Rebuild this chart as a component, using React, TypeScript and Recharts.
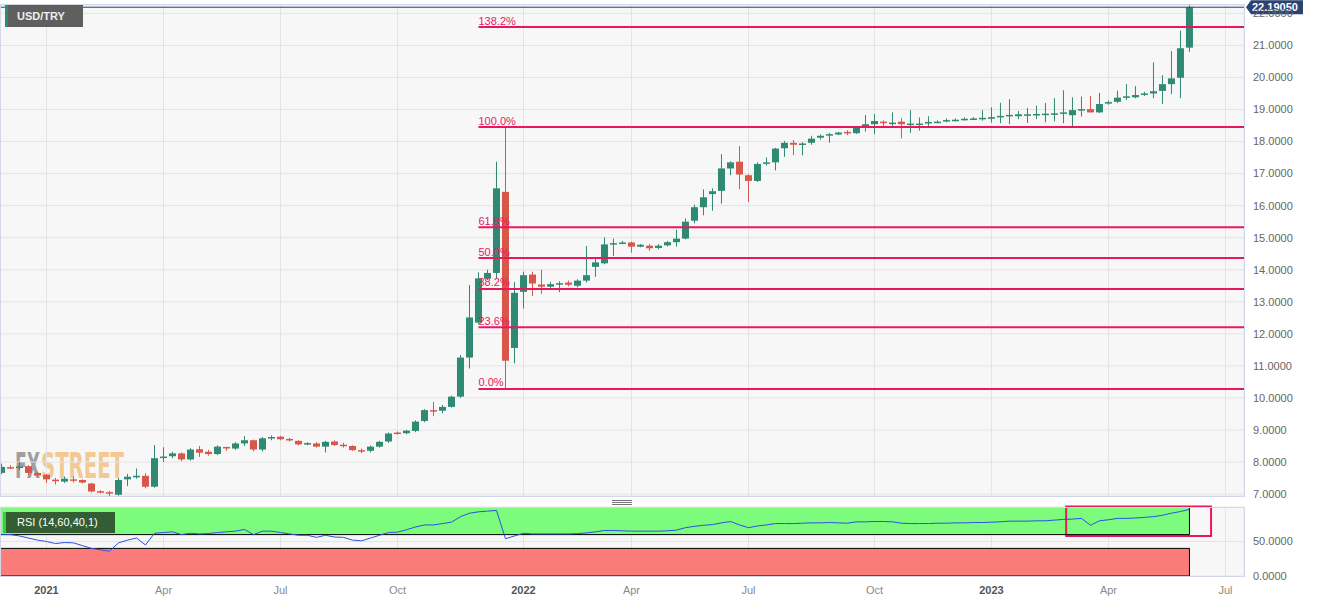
import React from 'react'
import {
  ComposedChart,
  Bar,
  Line,
  XAxis,
  YAxis,
  CartesianGrid,
  ReferenceLine,
  ReferenceArea,
} from 'recharts'

// weekly USD/TRY candles, index 0 = first visible week (late Nov 2020)
const open = [
  7.66, 7.84, 7.83, 7.87, 7.66, 7.6, 7.45, 7.39, 7.46, 7.44,
  7.33, 7.09, 7.06, 6.98, 7.46, 7.55, 7.57, 7.23, 8.13, 8.18,
  8.27, 8.08, 8.4, 8.32, 8.25, 8.47, 8.42, 8.58, 8.68, 8.39,
  8.76, 8.79, 8.72, 8.66, 8.57, 8.58, 8.48, 8.64, 8.54, 8.5,
  8.37, 8.35, 8.48, 8.64, 8.92, 8.9, 8.97, 9.28, 9.62, 9.6,
  9.72, 10.04, 11.26, 12.35, 13.72, 13.9, 16.43, 11.56, 13.31, 13.85,
  13.54, 13.47, 13.56, 13.6, 13.5, 13.66, 14.09, 14.2, 14.8, 14.83,
  14.85, 14.72, 14.75, 14.68, 14.76, 14.86, 14.97, 15.53, 15.95, 16.36,
  16.46, 17.16, 17.37, 16.95, 16.77, 17.32, 17.35, 17.79, 17.96, 17.92,
  17.96, 18.12, 18.2, 18.22, 18.3, 18.26, 18.46, 18.54, 18.62, 18.57,
  18.62, 18.54, 18.55, 18.58, 18.6, 18.64, 18.66, 18.68, 18.7, 18.7,
  18.71, 18.77, 18.8, 18.79, 18.83, 18.84, 18.85, 18.86, 18.88, 18.82,
  18.98, 19.01, 18.91, 19.19, 19.24, 19.38, 19.38, 19.47, 19.5, 19.58,
  19.79, 19.99, 20.93,
]
const high = [
  7.95, 7.9, 8.0, 7.9, 7.7, 7.62, 7.5, 7.55, 7.55, 7.46,
  7.35, 7.12, 7.1, 7.5, 7.63, 7.8, 7.65, 8.53, 8.46, 8.32,
  8.3, 8.43, 8.5, 8.38, 8.52, 8.48, 8.62, 8.81, 8.7, 8.78,
  8.83, 8.82, 8.75, 8.68, 8.62, 8.62, 8.66, 8.68, 8.6, 8.52,
  8.42, 8.52, 8.66, 8.92, 8.95, 9.0, 9.3, 9.65, 9.88, 9.78,
  10.07, 11.34, 13.52, 13.92, 14.0, 17.37, 18.45, 13.62, 13.94, 13.94,
  14.0, 13.62, 13.64, 13.66, 13.7, 14.74, 14.36, 15.01, 14.97, 14.9,
  14.88, 14.8, 14.8, 14.8, 14.9, 15.25, 15.6, 16.03, 16.51, 16.54,
  17.61, 17.38, 17.86, 16.98, 17.35, 17.5, 17.8, 18.02, 18.05, 17.98,
  18.18, 18.22, 18.27, 18.3, 18.35, 18.48, 18.83, 18.86, 18.66, 18.91,
  18.73, 18.98, 18.75, 18.79, 18.66, 18.72, 18.72, 18.75, 18.76, 18.98,
  19.07, 19.21, 19.32, 18.95, 19.05, 19.12, 19.2, 19.35, 19.6, 19.38,
  19.4, 19.42, 19.52, 19.28, 19.59, 19.79, 19.73, 19.55, 20.47, 20.07,
  20.82, 21.46, 22.25,
]
const low = [
  7.62, 7.78, 7.75, 7.6, 7.55, 7.35, 7.3, 7.35, 7.36, 7.33,
  7.05, 7.02, 6.92, 6.95, 7.25, 7.48, 7.18, 7.2, 8.0, 8.12,
  8.02, 8.05, 8.16, 8.2, 8.22, 8.35, 8.38, 8.5, 8.33, 8.33,
  8.68, 8.68, 8.64, 8.52, 8.53, 8.45, 8.3, 8.5, 8.45, 8.35,
  8.28, 8.3, 8.45, 8.6, 8.86, 8.87, 8.93, 9.24, 9.43, 9.52,
  9.7, 10.0, 10.92, 12.3, 13.68, 13.73, 10.28, 11.08, 12.79, 13.18,
  13.25, 13.37, 13.3, 13.48, 13.45, 13.6, 13.78, 14.17, 14.43, 14.8,
  14.53, 14.7, 14.59, 14.64, 14.73, 14.72, 14.95, 15.45, 15.7, 15.84,
  16.06, 16.95, 16.51, 16.12, 16.74, 17.25, 17.1, 17.52, 17.58, 17.57,
  17.9, 18.06, 17.96, 18.2, 18.2, 18.24, 18.31, 18.23, 18.43, 18.46,
  18.1, 18.27, 18.34, 18.48, 18.57, 18.6, 18.63, 18.65, 18.67, 18.65,
  18.59, 18.57, 18.54, 18.7, 18.58, 18.7, 18.6, 18.63, 18.57, 18.42,
  18.78, 18.9, 18.89, 19.15, 19.2, 19.3, 19.35, 19.42, 19.35, 19.17,
  19.48, 19.35, 20.8,
]
const close = [
  7.85, 7.82, 7.86, 7.66, 7.58, 7.46, 7.41, 7.48, 7.42, 7.36,
  7.08, 7.06, 7.03, 7.44, 7.54, 7.57, 7.23, 8.12, 8.17, 8.27,
  8.08, 8.39, 8.29, 8.25, 8.48, 8.43, 8.58, 8.68, 8.39, 8.74,
  8.78, 8.71, 8.69, 8.55, 8.59, 8.48, 8.63, 8.53, 8.52, 8.37,
  8.34, 8.48, 8.63, 8.89, 8.9, 8.98, 9.26, 9.62, 9.58, 9.72,
  10.04, 11.26, 12.51, 13.73, 13.9, 16.54, 11.16, 13.28, 13.83, 13.57,
  13.47, 13.55, 13.58, 13.53, 13.66, 13.83, 14.23, 14.79, 14.83, 14.85,
  14.72, 14.78, 14.67, 14.75, 14.86, 14.97, 15.5, 15.95, 16.26, 16.45,
  17.16, 17.35, 16.97, 16.77, 17.3, 17.35, 17.78, 17.96, 17.9, 17.94,
  18.09, 18.18, 18.23, 18.28, 18.27, 18.46, 18.54, 18.64, 18.59, 18.59,
  18.54, 18.56, 18.56, 18.61, 18.62, 18.67, 18.68, 18.71, 18.72, 18.74,
  18.76, 18.8, 18.83, 18.85, 18.85, 18.86, 18.87, 18.88, 18.91, 18.98,
  19.01, 18.91, 19.17, 19.23, 19.37, 19.41, 19.45, 19.5, 19.57, 19.79,
  19.97, 20.91, 22.19,
]
const rsi = [
  60, 60, 58, 55, 52, 50, 47, 48.5, 48, 44,
  40, 38, 36, 48, 52, 55, 45, 62, 63, 64,
  60, 62, 61, 61.5, 63, 64, 65, 67.5, 60, 65,
  65, 63, 61, 59, 59, 56, 59, 56.5, 56, 52,
  51, 55, 59, 63, 63.5, 67, 71, 74, 74, 76,
  78, 86, 91, 93, 94, 95, 54, 58, 62, 61,
  61, 61, 61, 61, 61.5, 62.5, 64, 66, 66, 65.5,
  65, 65, 65, 65, 65.5, 66.5, 70, 72, 73.5, 74.5,
  77, 79, 74, 70, 72.5, 74, 76, 76, 76, 76.5,
  77, 77, 77.5, 77, 76.5, 78.5, 78.5, 79, 79, 78.5,
  76.5, 76, 76, 76, 76.5, 76.5, 77, 77, 77.5, 77.5,
  78, 78.5, 79.5, 79.5, 79.5, 80, 80, 81, 82, 82.5,
  83.5, 73.5, 80, 81.5, 83.5, 83.5, 84, 85, 86, 88,
  91, 93.5, 96.5,
]

const monthTickIdx = [5, 18, 31, 44, 58, 70, 83, 97, 110, 123, 136]
const monthTickLabels = ['2021', 'Apr', 'Jul', 'Oct', '2022', 'Apr', 'Jul', 'Oct', '2023', 'Apr', 'Jul']
const priceTicks = [7, 8, 9, 10, 11, 12, 13, 14, 15, 16, 17, 18, 19, 20, 21, 22]
const rsiTicks = [0, 50]

const fibLow = 10.28
const fibHigh = 18.45
const fibRatios = [0, 0.236, 0.382, 0.5, 0.618, 1, 1.382]
const fibLabels = ['0.0%', '23.6%', '38.2%', '50.0%', '61.8%', '100.0%', '138.2%']
const fibStartIdx = 53

const lastPrice = 22.1905
const rsiUpper = 60
const rsiLower = 40
const rsiHighlight = { x1: 118.3, x2: 134.4, y1: 58, y2: 100.6 }

const X_MIN = -0.1667
const X_MAX = 138.06
const PRICE_MIN = 6.94
const PRICE_MAX = 22.26
const LAST_IDX = close.length - 1

const GREEN = '#2f8a73'
const RED = '#d9574a'
const FIB = '#e8185f'
const FONT = '"Liberation Sans", Arial, sans-serif'

const candles = open.map((o, i) => ({ i, o, h: high[i], l: low[i], c: close[i] }))
const rsiData = rsi.map((v, i) => ({ i, rsi: v }))

const CandleShape = (props: any) => {
  const { x, y, width, height, payload } = props
  if (!payload || x == null || y == null) return null
  const { o, h, l, c } = payload
  const color = c >= o ? GREEN : RED
  const top = Math.min(y, y + height)
  const span = Math.abs(height)
  const k = h - l > 0 ? span / (h - l) : 0
  const py = (v: number) => top + (h - v) * k
  const bTop = py(Math.max(o, c))
  const bBot = py(Math.min(o, c))
  const cx = x + width / 2
  return (
    <g>
      <rect x={cx - 0.5} y={top} width={1} height={span} fill={color} />
      <rect x={x} y={bTop} width={width} height={Math.max(1.5, bBot - bTop)} fill={color} />
    </g>
  )
}

const FibLabel = (props: any) => {
  const vb = props.viewBox
  if (!vb) return null
  return (
    <text x={vb.x} y={vb.y - 2.5} fill={FIB} fontSize={11} fontFamily={FONT}>
      {props.fibText}
    </text>
  )
}

const PriceLabel = (props: any) => {
  const vb = props.viewBox
  if (!vb) return null
  const x0 = vb.x + vb.width + 2
  const yc = vb.y
  return (
    <g>
      <polygon
        points={`${x0},${yc} ${x0 + 5},${yc - 7} ${x0 + 57},${yc - 7} ${x0 + 57},${yc + 7} ${x0 + 5},${yc + 7}`}
        fill="#2c4271"
      />
      <text x={x0 + 6} y={yc + 4} fill="#fff" fontSize={11} fontWeight="bold" fontFamily={FONT}>
        {lastPrice.toFixed(5)}
      </text>
    </g>
  )
}

const XTick = (props: any) => {
  const { x, y, payload } = props
  const label = monthTickLabels[monthTickIdx.indexOf(payload.value)] || ''
  const isYear = /^\d{4}$/.test(label)
  return (
    <text
      x={x}
      y={y}
      dy={11}
      textAnchor="middle"
      fontSize={11}
      fontFamily={FONT}
      fontWeight={isYear ? 'bold' : 'normal'}
      fill={isYear ? '#555' : '#8a8a8a'}
    >
      {label}
    </text>
  )
}

const priceFmt = (v: number) => v.toFixed(4)

export default function App() {
  return (
    <div style={{ position: 'absolute', left: 0, top: 0, width: 1328, height: 602, background: '#fff', fontFamily: FONT }}>
      {/* main plot background + watermark */}
      <div style={{ position: 'absolute', left: 0, top: 5, width: 1244, height: 491, background: '#f7f7f7' }} />
      <svg style={{ position: 'absolute', left: 0, top: 0 }} width={1244} height={500}>
        <text x={15} y={478} fontFamily="DejaVu Sans Condensed" fontWeight="bold" fontSize={36}
          textLength={25} lengthAdjust="spacingAndGlyphs" fill="#8a8a8a" opacity={0.8}>FX</text>
        <text x={41} y={478} fontFamily="DejaVu Sans Condensed" fontWeight="bold" fontSize={36}
          textLength={83} lengthAdjust="spacingAndGlyphs" fill="#f0b56a" opacity={0.7}>STREET</text>
      </svg>

      <div style={{ position: 'absolute', left: 0, top: 0 }}>
        <ComposedChart width={1328} height={500} data={candles} margin={{ top: 5, right: 0, bottom: 4, left: 0 }}>
          <CartesianGrid stroke="#e4e4e4" />
          <XAxis dataKey="i" type="number" domain={[X_MIN, X_MAX]} ticks={monthTickIdx} allowDataOverflow hide />
          <YAxis
            orientation="right"
            width={84}
            domain={[PRICE_MIN, PRICE_MAX]}
            ticks={priceTicks}
            interval={0}
            allowDataOverflow
            axisLine={false}
            tickLine={false}
            tickMargin={3}
            tick={{ fill: '#666', fontSize: 11, fontFamily: FONT }}
            tickFormatter={priceFmt}
          />
          <Bar dataKey={(d: any) => [d.l, d.h]} barSize={7} shape={<CandleShape />} isAnimationActive={false} />
          {fibRatios.map((r, k) => {
            const level = fibLow + r * (fibHigh - fibLow)
            return (
              <ReferenceLine
                key={k}
                segment={[{ x: fibStartIdx, y: level }, { x: X_MAX, y: level }]}
                stroke={FIB}
                strokeWidth={2}
                label={<FibLabel fibText={fibLabels[k]} />}
              />
            )
          })}
          <ReferenceLine y={lastPrice} stroke="#2b3f6b" strokeWidth={1} label={<PriceLabel />} />
        </ComposedChart>
      </div>
      <div style={{ position: 'absolute', left: 0, top: 4, width: 1245, height: 493, border: '1px solid #d3d9e8', boxSizing: 'border-box', pointerEvents: 'none' }} />

      {/* drag handle */}
      <svg style={{ position: 'absolute', left: 0, top: 497 }} width={1244} height={10}>
        <line x1={612} x2={632} y1={3.5} y2={3.5} stroke="#777" />
        <line x1={612} x2={632} y1={5.5} y2={5.5} stroke="#777" />
        <line x1={612} x2={632} y1={7.5} y2={7.5} stroke="#777" />
      </svg>

      {/* RSI panel */}
      <div style={{ position: 'absolute', left: 0, top: 500 }}>
        <ComposedChart width={1328} height={102} data={rsiData} margin={{ top: 7, right: 0, bottom: 0, left: 0 }}>
          <CartesianGrid stroke="#e4e4e4" fill="#f7f7f7" />
          <XAxis
            dataKey="i"
            type="number"
            domain={[X_MIN, X_MAX]}
            ticks={monthTickIdx}
            interval={0}
            allowDataOverflow
            axisLine={false}
            tickLine={false}
            height={26}
            tickMargin={1}
            tick={<XTick />}
          />
          <YAxis
            orientation="right"
            width={84}
            domain={[0, 100]}
            ticks={rsiTicks}
            interval={0}
            allowDataOverflow
            axisLine={false}
            tickLine={false}
            tickMargin={3}
            tick={{ fill: '#666', fontSize: 11, fontFamily: FONT }}
            tickFormatter={priceFmt}
          />
          <ReferenceArea x1={X_MIN} x2={LAST_IDX} y1={rsiUpper} y2={100} fill="#7dfb7d" fillOpacity={1} stroke="none" />
          <ReferenceArea x1={X_MIN} x2={LAST_IDX} y1={0} y2={rsiLower} fill="#fb7b7b" fillOpacity={1} stroke="#000" strokeWidth={1} />
          <ReferenceLine segment={[{ x: X_MIN, y: rsiUpper }, { x: LAST_IDX, y: rsiUpper }]} stroke="#000" />
          <ReferenceLine segment={[{ x: LAST_IDX, y: rsiUpper }, { x: LAST_IDX, y: 100 }]} stroke="#000" />
          <Line dataKey="rsi" type="linear" stroke="#2e4fe8" strokeWidth={1} dot={false} isAnimationActive={false} />
          <ReferenceArea
            x1={rsiHighlight.x1}
            x2={rsiHighlight.x2}
            y1={rsiHighlight.y1}
            y2={rsiHighlight.y2}
            fill="none"
            stroke={FIB}
            strokeWidth={2}
            ifOverflow="visible"
          />
        </ComposedChart>
      </div>
      <div style={{ position: 'absolute', left: 0, top: 507, width: 1245, height: 70, border: '1px solid #d3d9e8', boxSizing: 'border-box', pointerEvents: 'none' }} />

      {/* panel labels */}
      <div style={{ position: 'absolute', left: 5, top: 5, width: 78, height: 22, background: '#5f5f5f', borderLeft: '3px solid #2f8a73', boxSizing: 'border-box', color: '#eee', fontSize: 11, fontWeight: 'bold', lineHeight: '22px', paddingLeft: 9 }}>
        USD/TRY
      </div>
      <div style={{ position: 'absolute', left: 3, top: 512, width: 112, height: 21, background: '#335e33', borderLeft: '3px solid #35d235', boxSizing: 'border-box', color: '#fff', fontSize: 11, lineHeight: '21px', paddingLeft: 11 }}>
        RSI (14,60,40,1)
      </div>
    </div>
  )
}
